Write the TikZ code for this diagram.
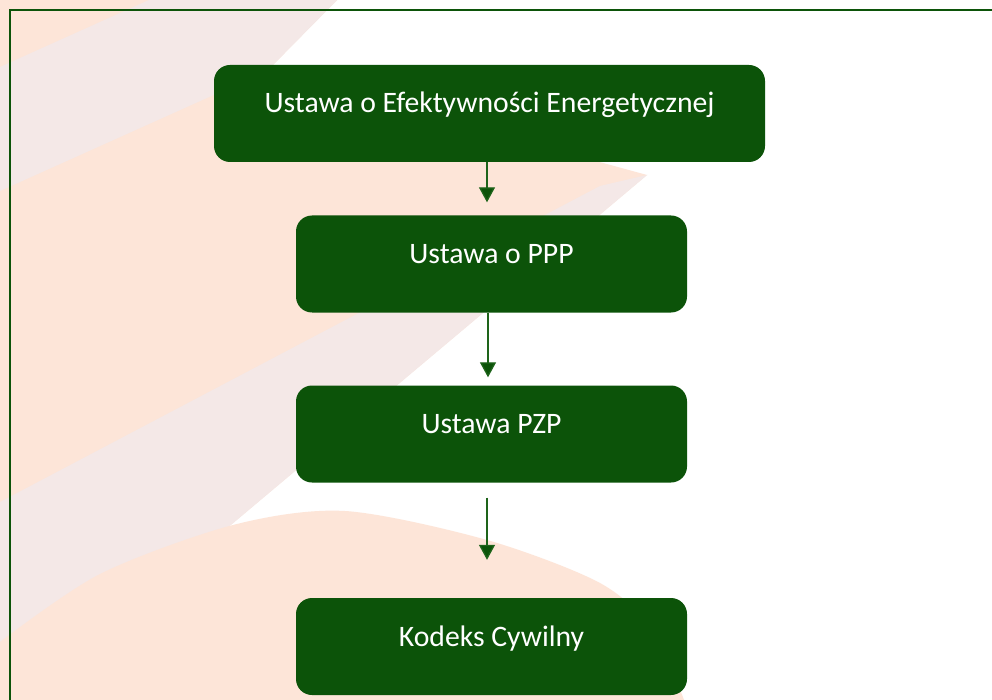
\documentclass[tikz,border=0pt]{standalone}
\usepackage{fontspec}
\setmainfont{Carlito}
\usetikzlibrary{arrows.meta}
\definecolor{boxgreen}{RGB}{12,83,9}
\definecolor{peach}{RGB}{253,229,216}
\definecolor{greyband}{RGB}{244,232,231}
\definecolor{linegreen}{RGB}{30,100,26}
\begin{document}
\begin{tikzpicture}[x=1pt,y=-1pt,
  boxstyle/.style={rectangle, rounded corners=16pt, fill=boxgreen, text=white,
    font=\fontsize{29.7}{35}\selectfont, inner sep=0pt,
    text height=48pt, text depth=49pt, minimum height=97pt},
  arrowline/.style={draw=linegreen, line width=1.3pt,
    -{Triangle[length=15pt,width=16pt,fill=boxgreen]}},
  borderline/.style={draw=boxgreen, line width=2.5pt}]
\useasboundingbox (0,0) rectangle (992,700);
\begin{scope}
\clip (0,0) rectangle (992,700);
\fill[white] (0,0) rectangle (992,700);
% background decoration
\fill[peach] (0,0) -- (337,0) -- (267,71) -- (647,175) -- (0,719) -- cycle;
\fill[greyband] (0,67) -- (149,0) -- (337,0) -- (267,71) -- (0,191) -- cycle;
\fill[greyband] (0,502) -- (600,186) -- (647,175) -- (0,719) -- cycle;
\fill[peach] plot[smooth] coordinates {(0,642) (100,574) (233,525) (345,511) (487,540) (600,583) (652,630) (686,705)} -- (686,710) -- (0,710) -- cycle;
\end{scope}
% border
\draw[borderline] (10,700) -- (10,10) -- (992,10);
% boxes
\node[boxstyle, minimum width=551pt] (b1) at (489.5,113.5) {Ustawa o Efektywności Energetycznej};
\node[boxstyle, minimum width=391pt] (b2) at (491.5,264) {Ustawa o PPP};
\node[boxstyle, minimum width=391pt] (b3) at (491.5,434) {Ustawa PZP};
\node[boxstyle, minimum width=391pt] (b4) at (491.5,646.5) {Kodeks Cywilny};
% connectors
\draw[arrowline, shorten >=13pt] ([xshift=-2.5pt]b1.south) -- ([xshift=-4.5pt]b2.north);
\draw[arrowline, shorten >=8pt] ([xshift=-3.5pt]b2.south) -- ([xshift=-3.5pt]b3.north);
\draw[arrowline, shorten <=15pt, shorten >=38pt] ([xshift=-4.5pt]b3.south) -- ([xshift=-4.5pt]b4.north);
\end{tikzpicture}
\end{document}
